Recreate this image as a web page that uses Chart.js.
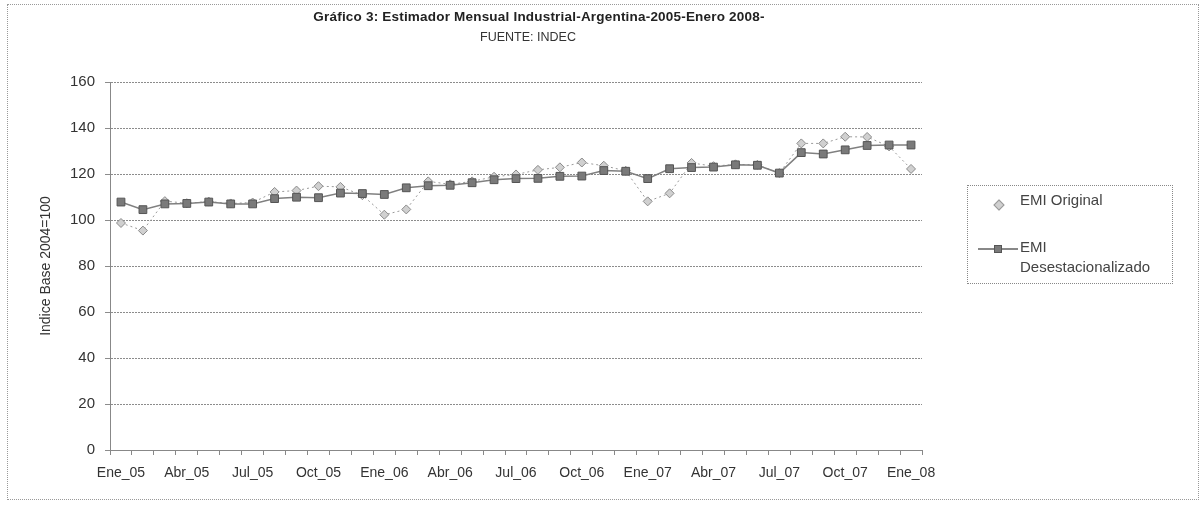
<!DOCTYPE html>
<html>
<head>
<meta charset="utf-8">
<script src="https://cdn.jsdelivr.net/npm/chart.js@4.4.1/dist/chart.umd.min.js"></script>
<style>
  html, body { margin: 0; padding: 0; background: #fff; }
  #wrap { position: relative; width: 1202px; height: 508px; font-family: "Liberation Sans", Arial, sans-serif; }
  #frame { position: absolute; left: 7px; top: 4px; width: 1192px; height: 496px; border: 1px dotted #999; box-sizing: border-box; pointer-events: none; }
  .head { position: absolute; left: 0; width: 1078px; text-align: center; white-space: nowrap; }
  #title { top: 9px; font-size: 13.5px; font-weight: bold; color: #222; letter-spacing: 0.2px; line-height: 16px; }
  #subtitle { top: 29px; width: 1056px; font-size: 12.5px; color: #333; line-height: 16px; }
  #legend { position: absolute; left: 967px; top: 185px; width: 206px; height: 99px; border: 1px dotted #888; box-sizing: border-box; font-size: 15px; color: #444; }
  #legend .txt { position: absolute; left: 52px; line-height: 18px; white-space: nowrap; }
  #legend .dia { position: absolute; left: 27px; top: 15px; width: 6px; height: 6px; background: #d0d0d0; border: 1px solid #999; transform: rotate(45deg); }
  #legend .ln { position: absolute; left: 10px; top: 62px; width: 40px; border-top: 2px solid #888; }
  #legend .sq { position: absolute; left: 26px; top: 59px; width: 8px; height: 8px; background: #7a7a7a; border: 1px solid #555; box-sizing: border-box; }
</style>
</head>
<body>
<div id="wrap">
  <canvas id="chart" width="1202" height="508"></canvas>
  <div id="frame"></div>
  <div class="head" id="title">Gráfico 3: Estimador Mensual Industrial-Argentina-2005-Enero 2008-</div>
  <div class="head" id="subtitle">FUENTE: INDEC</div>
  <div id="legend">
    <div class="dia"></div>
    <div class="txt" style="top:5px">EMI Original</div>
    <div class="ln"></div>
    <div class="sq"></div>
    <div class="txt" style="top:52px">EMI</div>
    <div class="txt" style="top:72px">Desestacionalizado</div>
  </div>
</div>
<script>
// months Ene_05 .. Ene_08
const labels = [
  "Ene_05", "Feb_05", "Mar_05", "Abr_05", "May_05", "Jun_05", "Jul_05", "Ago_05", "Sep_05", "Oct_05", "Nov_05", "Dic_05",
  "Ene_06", "Feb_06", "Mar_06", "Abr_06", "May_06", "Jun_06", "Jul_06", "Ago_06", "Sep_06", "Oct_06", "Nov_06", "Dic_06",
  "Ene_07", "Feb_07", "Mar_07", "Abr_07", "May_07", "Jun_07", "Jul_07", "Ago_07", "Sep_07", "Oct_07", "Nov_07", "Dic_07",
  "Ene_08"
];

const emiOriginal = [
  98.7, 95.4, 108.2, 107.3, 108.0, 107.2, 107.6, 112.2, 112.8, 114.7, 114.4, 110.8,
  102.3, 104.6, 116.8, 115.5, 116.8, 118.8, 119.8, 121.8, 122.9, 125.0, 123.6, 121.4,
  108.1, 111.6, 124.8, 123.4, 124.2, 124.0, 120.4, 133.3, 133.3, 136.2, 136.1, 132.0,
  122.2
];

const emiDesest = [
  107.8, 104.5, 107.0, 107.2, 107.8, 107.0, 107.0, 109.3, 109.9, 109.7, 111.7, 111.5,
  111.1, 114.0, 114.9, 115.1, 116.2, 117.5, 118.0, 118.1, 119.0, 119.1, 121.5, 121.2,
  118.0, 122.3, 122.8, 123.0, 124.0, 123.8, 120.4, 129.3, 128.7, 130.5, 132.4, 132.6,
  132.6
];

const FONT = "'Liberation Sans', Arial, sans-serif";

new Chart(document.getElementById("chart"), {
  type: "line",
  data: {
    labels: labels,
    datasets: [
      {
        label: "EMI Original",
        data: emiOriginal,
        borderColor: "#9a9a9a",
        borderWidth: 1,
        borderDash: [2, 3],
        pointStyle: "rectRot",
        pointRadius: 4.5,
        pointBackgroundColor: "#d0d0d0",
        pointBorderColor: "#8a8a8a",
        pointBorderWidth: 1,
        tension: 0,
        order: 1,
      },
      {
        label: "EMI Desestacionalizado",
        data: emiDesest,
        borderColor: "#808080",
        borderWidth: 1.5,
        pointStyle: "rect",
        pointRadius: 5.5,
        pointBackgroundColor: "#7a7a7a",
        pointBorderColor: "#555",
        pointBorderWidth: 1,
        tension: 0,
        order: 0,
      },
    ],
  },
  options: {
    responsive: false,
    animation: false,
    layout: { padding: { left: 30, right: 280, top: 82, bottom: 18 } },
    plugins: {
      legend: { display: false },
      tooltip: { enabled: false },
    },
    scales: {
      x: {
        offset: true,
        grid: { offset: true, drawOnChartArea: false, tickLength: 5, color: "#888" },
        border: { color: "#888" },
        ticks: {
          autoSkip: false,
          maxRotation: 0,
          minRotation: 0,
          padding: 10,
          color: "#333",
          font: { family: FONT, size: 14 },
          callback: (v, i) => (i % 3 === 0 ? labels[i] : ""),
        },
        afterFit: (s) => { s.height = 40; },
      },
      y: {
        min: 0,
        max: 160,
        ticks: { stepSize: 20, padding: 10, color: "#333", font: { family: FONT, size: 15 } },
        grid: { color: "#8c8c8c", tickLength: 5 },
        border: { color: "#888", dash: [2, 1] },
        title: {
          display: true,
          text: "Indice Base 2004=100",
          color: "#333",
          font: { family: FONT, size: 14 },
          padding: { top: 8, bottom: 0 },
        },
        afterFit: (s) => { s.width = 80; },
      },
    },
  },
});
</script>
</body>
</html>
